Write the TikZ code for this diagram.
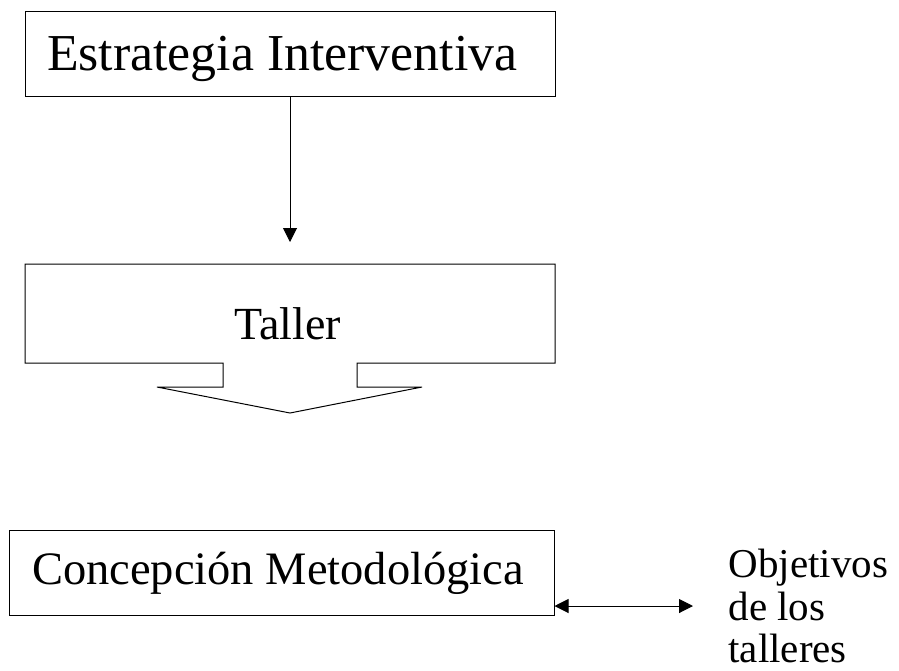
\documentclass[tikz,border=0pt]{standalone}
\usepackage{fontspec}
\setmainfont{Liberation Serif}
\usetikzlibrary{arrows.meta}

\begin{document}
\begin{tikzpicture}[x=1pt, y=-1pt, line width=1pt,
  box/.style={draw, rectangle, align=flush left, inner ysep=0pt}]
\useasboundingbox (0,0) rectangle (899,670);
\node[box, minimum width=530pt, minimum height=85pt, text width=486pt, inner xsep=22pt, text height=40pt, text depth=7pt, font=\fontsize{51.8}{56}\selectfont] (estr) at (290,53.5) {Estrategia Interventiva};
\coordinate (tallertop) at (290,242);
\draw[-{Triangle[length=14pt, width=14pt]}] (estr.south) -- (tallertop);
\draw (223,363) -- (25,363) -- (25,264) -- (555,264) -- (555,363) -- (357,363) -- (357,387) -- (422,387) -- (290,413) -- (157,387) -- (223,387) -- cycle;
\node[font=\fontsize{46}{52}\selectfont, inner sep=0pt, anchor=base] (taller) at (287.5,339) {Taller};
\node[box, minimum width=545pt, minimum height=85pt, text width=499pt, inner xsep=23pt, text height=32pt, text depth=9pt, font=\fontsize{46.5}{52}\selectfont] (concep) at (281.5,572.5) {Concepción Metodológica};
\node[align=left, anchor=west, inner xsep=35pt, inner ysep=0pt, font=\fontsize{41}{42.5}\selectfont] (obj) at (693,606) {Objetivos\\de los\\talleres};
\draw[{Triangle[length=14pt, width=14pt]}-{Triangle[length=14pt, width=14pt]}] (concep.east |- obj.west) -- (obj.west);
\end{tikzpicture}
\end{document}
